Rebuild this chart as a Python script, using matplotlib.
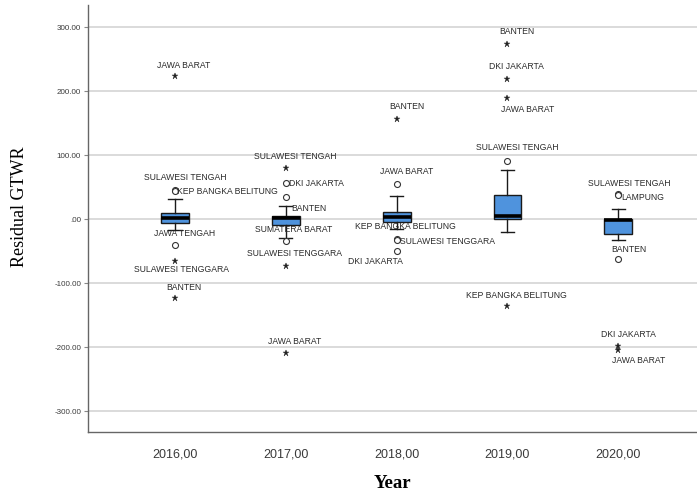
import matplotlib
matplotlib.use("Agg")
import matplotlib.pyplot as plt
from matplotlib import font_manager

# ---------------- data ----------------
years = ["2016,00", "2017,00", "2018,00", "2019,00", "2020,00"]
q1 = [-5.8, -9.0, -5.2, -0.5, -23.4]
median = [1.0, 2.0, 3.0, 5.0, -1.5]
q3 = [9.8, 4.0, 11.4, 37.5, -0.5]
whisker_low = [-17.0, -30.0, -15.0, -20.0, -33.0]
whisker_high = [31.0, 21.0, 36.0, 76.6, 15.0]

# outliers: (year index, province, value, kind)  kind: "o" = outlier circle, "*" = extreme
out_year = [0, 0, 0, 0, 0, 0,
            1, 1, 1, 1, 1, 1,
            2, 2, 2, 2, 2,
            3, 3, 3, 3, 3,
            4, 4, 4, 4, 4]
out_name = ["JAWA BARAT", "SULAWESI TENGAH", "KEP BANGKA BELITUNG", "JAWA TENGAH", "SULAWESI TENGGARA", "BANTEN",
            "SULAWESI TENGAH", "DKI JAKARTA", "BANTEN", "SUMATERA BARAT", "SULAWESI TENGGARA", "JAWA BARAT",
            "BANTEN", "JAWA BARAT", "KEP BANGKA BELITUNG", "SULAWESI TENGGARA", "DKI JAKARTA",
            "BANTEN", "DKI JAKARTA", "JAWA BARAT", "SULAWESI TENGAH", "KEP BANGKA BELITUNG",
            "SULAWESI TENGAH", "LAMPUNG", "BANTEN", "DKI JAKARTA", "JAWA BARAT"]
out_value = [223, 46, 44, -41, -65, -124,
             79, 56, 34, -35, -73, -209,
             156, 54, -31, -33, -50,
             273, 219, 189, 91, -136,
             39, 37, -63, -198, -204]
out_kind = ["*", "o", "o", "o", "*", "*",
            "*", "o", "o", "o", "*", "*",
            "*", "o", "o", "o", "o",
            "*", "*", "*", "o", "*",
            "o", "o", "o", "*", "*"]

yticks = [300, 200, 100, 0, -100, -200, -300]
ytick_labels = ["300.00", "200.00", "100.00", ".00", "-100.00", "-200.00", "-300.00"]

# label placement (pixel offsets dx, dy, alignment) - layout only
label_layout = [(9, 11, "center"), (10, 12, "center"), (2, -1, "left"), (10, 12, "center"), (6, -9, "center"), (9, 11, "center"),
                (9, 12, "center"), (3, 0, "left"), (5, -11, "left"), (8, 12, "center"), (9, 12, "center"), (9, 11, "center"),
                (10, 12.5, "center"), (10, 13, "center"), (9, 12, "center"), (3, -1, "left"), (-21, -10, "center"),
                (9.5, 13, "center"), (9, 12, "center"), (20, -11, "center"), (10, 13, "center"), (9, 11, "center"),
                (10.5, 11, "center"), (3, -2, "left"), (10.5, 10, "center"), (10, 11, "center"), (20, -11, "center")]

# ---------------- style ----------------
avail = {f.name for f in font_manager.fontManager.ttflist}
narrow = "Liberation Sans Narrow" if "Liberation Sans Narrow" in avail else None
if narrow:
    sans = [narrow, "DejaVu Sans"]
    lab_fs, ytick_fs, xtick_fs = 7.3, 6.8, 10.3
else:
    sans = ["Liberation Sans", "DejaVu Sans"]
    lab_fs, ytick_fs, xtick_fs = 6.2, 5.8, 9.0
serif = ["Liberation Serif", "DejaVu Serif"]

box_color = "#4f93dd"
dpi = 100
fig = plt.figure(figsize=(6.97, 4.95), dpi=dpi)
ax = fig.add_axes([88 / 697, 1 - 432 / 495, 1 - 88 / 697, (432 - 5) / 495])

stats = []
for i in range(len(years)):
    stats.append(dict(med=median[i], q1=q1[i], q3=q3[i], whislo=whisker_low[i],
                      whishi=whisker_high[i], fliers=[], label=years[i]))

ax.bxp(stats, positions=list(range(len(years))), widths=0.25, patch_artist=True,
       showfliers=False,
       boxprops=dict(facecolor=box_color, edgecolor="#1a1a1a", linewidth=1.0),
       medianprops=dict(color="black", linewidth=2.6, solid_capstyle="butt"),
       whiskerprops=dict(color="#1a1a1a", linewidth=1.0),
       capprops=dict(color="#1a1a1a", linewidth=1.0),
       capwidths=0.12, zorder=3)

for yi, nm, v, k, (dx, dy, ha) in zip(out_year, out_name, out_value, out_kind, label_layout):
    if k == "o":
        ax.plot(yi, v, marker="o", ms=4.3, mfc="white", mec="#333333", mew=0.8, ls="none", zorder=4)
    else:
        ax.plot(yi, v, marker="*", ms=5, color="#222222", mew=0.3, ls="none", zorder=4)
    ax.annotate(nm, (yi, v), xytext=(dx * 0.72, dy * 0.72), textcoords="offset points",
                ha=ha, va="center", fontsize=lab_fs, family=sans, color="#2a2a2a", zorder=5)

ax.set_xlim(-0.785, 4.71)
ax.set_ylim(-332.8, 334.4)
ax.set_yticks(yticks)
ax.set_yticklabels(ytick_labels, family=sans, fontsize=ytick_fs, color="#3a3a3a")
ax.set_xticks(list(range(len(years))))
ax.set_xticklabels(years, family=sans, fontsize=xtick_fs, color="#3a3a3a")
ax.tick_params(axis="x", length=0, pad=12)
ax.tick_params(axis="y", length=3, width=0.8, color="#888888", pad=2)
ax.yaxis.grid(True, color="#dadada", linewidth=1.4, zorder=0)
ax.set_axisbelow(True)
for s in ["top", "right"]:
    ax.spines[s].set_visible(False)
for s in ["left", "bottom"]:
    ax.spines[s].set_color("#666666")
    ax.spines[s].set_linewidth(1.0)

fig.text(20 / 697, 1 - 207 / 495, "Residual GTWR", family=serif, fontsize=13,
         rotation=90, ha="center", va="center")
fig.text(392 / 697, 1 - 483 / 495, "Year", family=serif, fontsize=13.5,
         fontweight="bold", ha="center", va="center")

fig.savefig("out.png", dpi=dpi)
